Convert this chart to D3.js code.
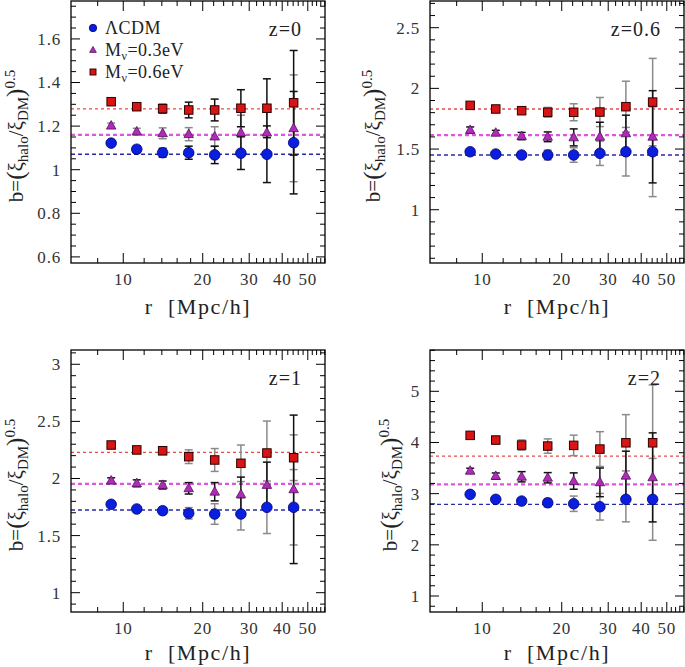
<!DOCTYPE html>
<html><head><meta charset="utf-8">
<script src="https://cdn.jsdelivr.net/npm/d3@7"></script>
<style>
body{margin:0;background:#fff;}
svg text{font-family:"Liberation Serif","DejaVu Serif",serif;}
</style></head>
<body><svg id="c" width="685" height="667"></svg>
<script>
// ---------- data ----------
const rVals = [9.0, 11.25, 14.1, 17.7, 22.2, 27.9, 35.0, 44.2];
const xTickMajor = [10, 20, 30, 40, 50];
const zLabels = ["z=0", "z=0.6", "z=1", "z=2"];
const seriesNames = ["ΛCDM", "M", "M"];

// z=0
const lcdm_z0 = [1.122, 1.094, 1.078, 1.078, 1.068, 1.076, 1.071, 1.124];
const nu03_z0 = [1.202, 1.175, 1.167, 1.163, 1.152, 1.170, 1.170, 1.190];
const nu06_z0 = [1.312, 1.289, 1.280, 1.274, 1.274, 1.282, 1.282, 1.307];
const eLcdm_z0 = [0.010, 0.015, 0.020, 0.030, 0.040, 0.075, 0.130, 0.235];
const eNu03_z0 = [0.012, 0.015, 0.025, 0.030, 0.045, 0.080, 0.100, 0.245];
const eNu06_z0 = [0.012, 0.015, 0.020, 0.036, 0.050, 0.085, 0.135, 0.240];
// z=0.6
const lcdm_z06 = [1.478, 1.459, 1.451, 1.451, 1.451, 1.465, 1.478, 1.478];
const nu03_z06 = [1.657, 1.634, 1.607, 1.601, 1.596, 1.601, 1.629, 1.601];
const nu06_z06 = [1.860, 1.830, 1.816, 1.803, 1.803, 1.805, 1.849, 1.887];
const eLcdm_z06 = [0.020, 0.020, 0.020, 0.040, 0.060, 0.100, 0.200, 0.370];
const eNu03_z06 = [0.025, 0.020, 0.030, 0.040, 0.070, 0.120, 0.150, 0.380];
const eNu06_z06 = [0.020, 0.020, 0.025, 0.040, 0.070, 0.120, 0.210, 0.360];
// z=1
const lcdm_z1 = [1.774, 1.733, 1.718, 1.695, 1.689, 1.689, 1.748, 1.748];
const nu03_z1 = [1.981, 1.958, 1.943, 1.914, 1.884, 1.862, 1.943, 1.905];
const nu06_z1 = [2.293, 2.250, 2.243, 2.191, 2.162, 2.133, 2.223, 2.182];
const eLcdm_z1 = [0.020, 0.020, 0.030, 0.050, 0.090, 0.140, 0.230, 0.330];
const eNu03_z1 = [0.025, 0.030, 0.035, 0.050, 0.080, 0.150, 0.200, 0.650];
const eNu06_z1 = [0.030, 0.030, 0.035, 0.060, 0.100, 0.160, 0.280, 0.200];
// z=2
const lcdm_z2 = [2.986, 2.889, 2.855, 2.822, 2.803, 2.744, 2.889, 2.889];
const nu03_z2 = [3.447, 3.344, 3.330, 3.311, 3.246, 3.221, 3.350, 3.318];
const nu06_z2 = [4.139, 4.047, 3.949, 3.930, 3.943, 3.871, 3.994, 3.994];
const eLcdm_z2 = [0.040, 0.050, 0.060, 0.080, 0.150, 0.260, 0.440, 0.800];
const eNu03_z2 = [0.050, 0.060, 0.100, 0.100, 0.160, 0.280, 0.480, 0.870];
const eNu06_z2 = [0.050, 0.070, 0.100, 0.140, 0.200, 0.340, 0.550, 1.130];

// constant-bias fits
const fitLcdm = [1.071, 1.451, 1.724, 2.791];
const fitNu03 = [1.160, 1.615, 1.952, 3.181];
const fitNu06 = [1.279, 1.830, 2.229, 3.734];

// axis ranges & ticks
const xDomain = [6.34, 58.1];
const yDomains = [[0.572, 1.774], [0.561, 2.72], [0.831, 3.125], [0.6875, 5.807]];
const yMajor = [[0.6, 0.8, 1, 1.2, 1.4, 1.6], [1, 1.5, 2, 2.5], [1, 1.5, 2, 2.5, 3], [1, 2, 3, 4, 5]];
const yMinorStep = [0.05, 0.1, 0.1, 0.2];

// ---------- layout ----------
const panels = [
  {x0: 71, x1: 325, y0: 1, y1: 263, ylabX: 23, xlabOff: 51, bars: ["#111", "#8a8a8a", "#111"],
   series: [lcdm_z0, nu03_z0, nu06_z0], errs: [eLcdm_z0, eNu03_z0, eNu06_z0]},
  {x0: 430, x1: 684, y0: 1, y1: 263, ylabX: 380, xlabOff: 51, bars: ["#8a8a8a", "#111", "#8a8a8a"],
   series: [lcdm_z06, nu03_z06, nu06_z06], errs: [eLcdm_z06, eNu03_z06, eNu06_z06]},
  {x0: 71, x1: 325, y0: 350, y1: 612, ylabX: 23, xlabOff: 48, bars: ["#8a8a8a", "#111", "#8a8a8a"],
   series: [lcdm_z1, nu03_z1, nu06_z1], errs: [eLcdm_z1, eNu03_z1, eNu06_z1]},
  {x0: 430, x1: 684, y0: 350, y1: 612, ylabX: 397, xlabOff: 48, bars: ["#8a8a8a", "#111", "#8a8a8a"],
   series: [lcdm_z2, nu03_z2, nu06_z2], errs: [eLcdm_z2, eNu03_z2, eNu06_z2]}
];
const fits = [fitLcdm, fitNu03, fitNu06];
const fitStyle = [
  {c: "#2a2aa8", w: 1.3, d: "4,3"},
  {c: "#e055e0", w: 2.2, d: "4,3"},
  {c: "#e84a4a", w: 1.4, d: "3,3"}
];
const markFill = ["#0a1ee0", "#b02cb8", "#d81414"];
const markStroke = ["#000070", "#50105a", "#300000"];

const svg = d3.select("#c");

function drawMarker(g, k, x, y, s) {
  if (k === 0) {
    g.append("circle").attr("cx", x).attr("cy", y).attr("r", 5.3 * s)
      .attr("fill", markFill[0]).attr("stroke", markStroke[0]).attr("stroke-width", 0.8);
  } else if (k === 1) {
    const h = 8.5 * s, w = 9.5 * s;
    g.append("path").attr("d", `M${x},${y - h * 0.6}L${x + w / 2},${y + h * 0.4}L${x - w / 2},${y + h * 0.4}Z`)
      .attr("fill", markFill[1]).attr("stroke", markStroke[1]).attr("stroke-width", 0.8);
  } else {
    const a = 8.5 * s;
    g.append("rect").attr("x", x - a / 2).attr("y", y - a / 2).attr("width", a).attr("height", a)
      .attr("fill", markFill[2]).attr("stroke", markStroke[2]).attr("stroke-width", 1);
  }
}

panels.forEach((p, i) => {
  const x = d3.scaleLog().domain(xDomain).range([p.x0, p.x1]);
  const y = d3.scaleLinear().domain(yDomains[i]).range([p.y1, p.y0]);
  const g = svg.append("g");

  // fit lines
  fits.forEach((f, k) => {
    g.append("line").attr("x1", p.x0).attr("x2", p.x1)
      .attr("y1", y(f[i])).attr("y2", y(f[i]))
      .attr("stroke", fitStyle[k].c).attr("stroke-width", fitStyle[k].w)
      .attr("stroke-dasharray", fitStyle[k].d);
  });

  // error bars: gray first then black
  const order = [0, 1, 2].sort((a, b) => (p.bars[a] === "#111") - (p.bars[b] === "#111"));
  order.forEach(k => {
    const vals = p.series[k], ee = p.errs[k];
    rVals.forEach((r, j) => {
      const cx = x(r), lo = y(vals[j] - ee[j]), hi = y(vals[j] + ee[j]);
      const col = p.bars[k];
      g.append("line").attr("x1", cx).attr("x2", cx).attr("y1", lo).attr("y2", hi)
        .attr("stroke", col).attr("stroke-width", 1.5);
      [lo, hi].forEach(yy => g.append("line").attr("x1", cx - 4).attr("x2", cx + 4)
        .attr("y1", yy).attr("y2", yy).attr("stroke", col).attr("stroke-width", 1.5));
    });
  });

  // markers
  [0, 1, 2].forEach(k => {
    rVals.forEach((r, j) => drawMarker(g, k, x(r), y(p.series[k][j]), 1));
  });

  // frame
  g.append("rect").attr("x", p.x0).attr("y", p.y0).attr("width", p.x1 - p.x0).attr("height", p.y1 - p.y0)
    .attr("fill", "none").attr("stroke", "#000").attr("stroke-width", 1.3);

  // x ticks (every 2 units, majors labelled)
  const xt = d3.range(8, 59, 2);
  xt.forEach(v => {
    const major = xTickMajor.includes(v);
    const L = major ? 10 : 5;
    const xx = x(v);
    g.append("line").attr("x1", xx).attr("x2", xx).attr("y1", p.y1).attr("y2", p.y1 - L)
      .attr("stroke", "#000").attr("stroke-width", 1);
    g.append("line").attr("x1", xx).attr("x2", xx).attr("y1", p.y0).attr("y2", p.y0 + L)
      .attr("stroke", "#000").attr("stroke-width", 1);
  });
  xTickMajor.forEach(v => {
    g.append("text").attr("x", x(v)).attr("y", p.y1 + 22).attr("text-anchor", "middle")
      .attr("font-size", 17).attr("letter-spacing", 0.8).attr("fill", "#333").text(v);
  });

  // y ticks
  const step = yMinorStep[i];
  const yd = yDomains[i];
  const start = Math.ceil(yd[0] / step - 1e-9), end = Math.floor(yd[1] / step + 1e-9);
  for (let n = start; n <= end; n++) {
    const v = +(n * step).toFixed(4);
    const major = yMajor[i].some(m => Math.abs(m - v) < 1e-6);
    const L = major ? 9 : 5;
    const yy = y(v);
    g.append("line").attr("x1", p.x0).attr("x2", p.x0 + L).attr("y1", yy).attr("y2", yy)
      .attr("stroke", "#000").attr("stroke-width", 1);
    g.append("line").attr("x1", p.x1).attr("x2", p.x1 - L).attr("y1", yy).attr("y2", yy)
      .attr("stroke", "#000").attr("stroke-width", 1);
  }
  yMajor[i].forEach(v => {
    g.append("text").attr("x", p.x0 - 10).attr("y", y(v)).attr("dy", "0.35em")
      .attr("text-anchor", "end").attr("font-size", 17).attr("letter-spacing", 0.8)
      .attr("fill", "#333").text(d3.format("~g")(v));
  });

  // x label
  g.append("text").attr("x", (p.x0 + p.x1) / 2).attr("y", p.y1 + p.xlabOff).attr("text-anchor", "middle")
    .attr("font-size", 22).attr("letter-spacing", 1.6).attr("fill", "#222")
    .attr("xml:space", "preserve").text("r  [Mpc/h]");

  // y label
  const yl = g.append("text").attr("text-anchor", "middle").attr("fill", "#222").attr("font-size", 21)
    .attr("transform", `translate(${p.ylabX},${(p.y0 + p.y1) / 2 + 4}) rotate(-90)`);
  yl.append("tspan").text("b=");
  yl.append("tspan").attr("font-size", 25).attr("dy", 1).text("(");
  yl.append("tspan").attr("dy", -1).text("ξ");
  yl.append("tspan").attr("font-size", 15).attr("dy", 5).text("halo");
  yl.append("tspan").attr("dy", -5).text("/");
  yl.append("tspan").text("ξ");
  yl.append("tspan").attr("font-size", 15).attr("dy", 5).text("DM");
  yl.append("tspan").attr("font-size", 25).attr("dy", -4).text(")");
  yl.append("tspan").attr("font-size", 15).attr("dy", -9).text("0.5");

  // redshift label
  g.append("text").attr("x", p.x1 - 23).attr("y", p.y0 + 35).attr("text-anchor", "end")
    .attr("font-size", 20).attr("letter-spacing", 1).attr("fill", "#222").text(zLabels[i]);

  // legend in first panel
  if (i === 0) {
    const ly = [28, 50, 72];
    const subs = ["", "=0.3eV", "=0.6eV"];
    ly.forEach((yy, k) => {
      drawMarker(g, k, p.x0 + 22, yy, 0.7);
      const t = g.append("text").attr("x", p.x0 + 34).attr("y", yy + 6).attr("font-size", 18)
        .attr("letter-spacing", 0.5).attr("fill", "#222");
      t.append("tspan").text(seriesNames[k]);
      if (k > 0) {
        t.append("tspan").attr("font-size", 12).attr("dy", 4).text("ν");
        t.append("tspan").attr("dy", -4).text(subs[k]);
      }
    });
  }
});
</script></body></html>
